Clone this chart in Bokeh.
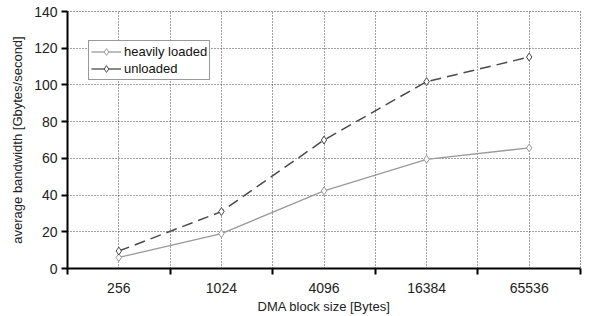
from bokeh.plotting import figure
from bokeh.models import FixedTicker, Range1d, Legend, LegendItem, ColumnDataSource
from bokeh.embed import file_html
from bokeh.resources import INLINE

categories = ["256", "1024", "4096", "16384", "65536"]
heavily_loaded = [6, 19, 42.3, 59.5, 65.7]
unloaded = [9.5, 31, 70, 101.8, 115.2]
y_ticks = [0, 20, 40, 60, 80, 100, 120, 140]

xs = list(range(len(categories)))
FONT = "Liberation Sans"

p = figure(width=596, height=316, output_backend="svg", toolbar_location=None,
           x_range=Range1d(-0.5, len(categories) - 0.5), y_range=Range1d(0, 140),
           min_border_left=67, min_border_right=16, min_border_top=11, min_border_bottom=47)
p.outline_line_color = "#333333"
p.outline_line_dash = "1 2"
p.outline_line_width = 1

p.xaxis.ticker = FixedTicker(ticks=xs, minor_ticks=[i + 0.5 for i in range(-1, len(categories))])
p.xaxis.major_label_overrides = {i: c for i, c in enumerate(categories)}
p.xaxis.major_tick_line_color = None
p.xaxis.major_tick_out = 6
p.xaxis.major_tick_in = 0
p.xaxis.minor_tick_line_color = "black"
p.xaxis.minor_tick_out = 6
p.xaxis.minor_tick_in = 0
p.xaxis.minor_tick_line_width = 2
p.xaxis.axis_line_width = 2
p.xaxis.axis_line_color = "black"
p.xaxis.axis_label = "DMA block size [Bytes]"
p.xaxis.major_label_standoff = 8
p.xaxis.axis_label_standoff = 3

p.yaxis.ticker = FixedTicker(ticks=y_ticks)
p.yaxis.minor_tick_line_color = None
p.yaxis.major_tick_out = 6
p.yaxis.major_tick_in = 0
p.yaxis.major_tick_line_width = 2
p.yaxis.axis_line_width = 2
p.yaxis.axis_line_color = "black"
p.yaxis.axis_label = "average bandwidth [Gbytes/second]"
p.yaxis.major_label_standoff = 4
p.yaxis.axis_label_standoff = 6

for ax in (p.xaxis, p.yaxis):
    ax.major_label_text_font = FONT
    ax.major_label_text_font_size = "14px"
    ax.major_label_text_color = "#222222"
    ax.axis_label_text_font = FONT
    ax.axis_label_text_font_size = "13px"
    ax.axis_label_text_font_style = "normal"
    ax.axis_label_text_color = "#222222"

p.xgrid.grid_line_color = "#444444"
p.xgrid.grid_line_dash = "1 2"
p.xgrid.minor_grid_line_color = "#444444"
p.xgrid.minor_grid_line_dash = "1 2"
p.ygrid.grid_line_color = "#444444"
p.ygrid.grid_line_dash = "1 2"

HEAVY = "#9a9a9a"
UNL = "#4a4a4a"

src = ColumnDataSource(dict(x=xs, h=heavily_loaded, u=unloaded))
p.line("x", "h", source=src, color=HEAVY, line_width=1.3)
p.scatter("x", "h", source=src, marker="diamond", size=8, line_color=HEAVY, fill_color="white")
p.line("x", "u", source=src, color=UNL, line_width=1.5, line_dash="11 6")
p.scatter("x", "u", source=src, marker="diamond", size=8, line_color=UNL, fill_color="white")

nan = float("nan")
dummy = ColumnDataSource(dict(x=[nan], y=[nan]))
lh = p.line("x", "y", source=dummy, color=HEAVY, line_width=1.3)
sh = p.scatter("x", "y", source=dummy, marker="diamond", size=7, line_color=HEAVY, fill_color="white")
lu = p.line("x", "y", source=dummy, color=UNL, line_width=1.3)
su = p.scatter("x", "y", source=dummy, marker="diamond", size=7, line_color=UNL, fill_color="white")

legend = Legend(items=[LegendItem(label="heavily loaded", renderers=[lh, sh]),
                       LegendItem(label="unloaded", renderers=[lu, su])],
                location=(21, 188))
legend.label_text_font = FONT
legend.label_text_font_size = "13px"
legend.label_text_color = "#111111"
legend.border_line_color = "#333333"
legend.border_line_width = 1.2
legend.background_fill_color = "white"
legend.padding = 2
legend.spacing = 0
legend.margin = 0
legend.glyph_width = 30
legend.glyph_height = 17
legend.label_height = 17
legend.label_standoff = 3
p.add_layout(legend, "center")

open("out.html", "w").write(file_html(p, INLINE))
